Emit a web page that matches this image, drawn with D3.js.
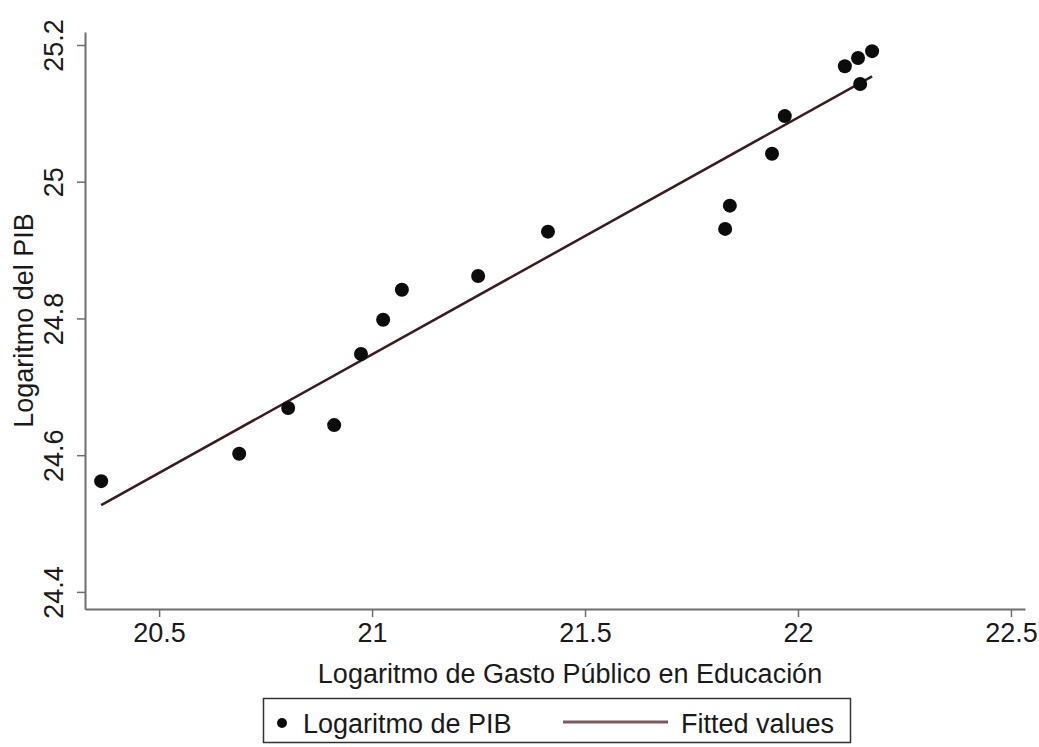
<!DOCTYPE html>
<html>
<head>
<meta charset="utf-8">
<script src="https://cdn.jsdelivr.net/npm/d3@7"></script>
<style>
  body { margin: 0; background: #fff; }
  svg { display: block; font-family: "Liberation Sans", Arial, sans-serif; }
</style>
</head>
<body>
<div id="viz"></div>
<script>
// data
const gastoEdu = [20.364, 20.688, 20.803, 20.911, 20.974, 21.026, 21.070, 21.249, 21.413,
                  21.829, 21.840, 21.939, 21.969, 22.110, 22.141, 22.146, 22.174];
const logPIB = [24.562, 24.602, 24.669, 24.644, 24.748, 24.798, 24.842, 24.862, 24.927,
                24.931, 24.965, 25.041, 25.096, 25.169, 25.181, 25.143, 25.191];
// fitted line end points
const fittedX = [20.364, 22.174];
const fittedY = [24.527, 25.154];

const xTicks = [20.5, 21, 21.5, 22, 22.5];
const yTicks = [24.4, 24.6, 24.8, 25, 25.2];

const width = 1039,
    height = 747;
const margin = { top: 32, right: 14, bottom: 138, left: 85 };

const svg = d3.select("#viz")
    .append("svg")
    .attr("width", width)
    .attr("height", height);

const x = d3.scaleLinear()
    .domain([20.326, 22.533])
    .range([margin.left, width - margin.right]);

const y = d3.scaleLinear()
    .domain([24.375, 25.219])
    .range([height - margin.bottom, margin.top]);

const fontSize = 27;
const axisColor = "#6e6e6e";
const lineColor = "#3a1c1f";

// x axis
const xAxis = svg.append("g")
    .attr("transform", `translate(0,${height - margin.bottom})`)
    .call(d3.axisBottom(x).tickValues(xTicks).tickSize(8).tickSizeOuter(0)
        .tickFormat(d => String(d)));
xAxis.select(".domain").attr("stroke", axisColor).attr("stroke-width", 2);
xAxis.selectAll(".tick line").attr("stroke", axisColor).attr("stroke-width", 1.5);
xAxis.selectAll(".tick text")
    .attr("y", 33)
    .attr("dy", 0)
    .style("font-size", fontSize + "px")
    .attr("fill", "#1a1a1a");

// y axis
const yAxis = svg.append("g")
    .attr("transform", `translate(${margin.left},0)`)
    .call(d3.axisLeft(y).tickValues(yTicks).tickSize(8).tickSizeOuter(0)
        .tickFormat(d => String(d)));
yAxis.select(".domain").attr("stroke", axisColor).attr("stroke-width", 2);
yAxis.selectAll(".tick line").attr("stroke", axisColor).attr("stroke-width", 1.5);
yAxis.selectAll(".tick text")
    .attr("x", 0)
    .attr("dy", 0)
    .attr("text-anchor", "middle")
    .attr("transform", "translate(-22,0) rotate(-90)")
    .style("font-size", fontSize + "px")
    .attr("fill", "#1a1a1a");

// axis titles
svg.append("text")
    .attr("x", 570)
    .attr("y", 683)
    .attr("text-anchor", "middle")
    .style("font-size", fontSize + "px")
    .attr("fill", "#1a1a1a")
    .text("Logaritmo de Gasto Público en Educación");

svg.append("text")
    .attr("transform", `translate(33,${(margin.top + height - margin.bottom) / 2}) rotate(-90)`)
    .attr("text-anchor", "middle")
    .style("font-size", fontSize + "px")
    .attr("fill", "#1a1a1a")
    .text("Logaritmo del PIB");

// fitted line
svg.append("line")
    .attr("x1", x(fittedX[0]))
    .attr("y1", y(fittedY[0]))
    .attr("x2", x(fittedX[1]))
    .attr("y2", y(fittedY[1]))
    .attr("stroke", lineColor)
    .attr("stroke-width", 2.5);

// points
svg.append("g")
    .selectAll("circle")
    .data(gastoEdu.map((d, i) => [d, logPIB[i]]))
    .enter()
    .append("circle")
        .attr("cx", d => x(d[0]))
        .attr("cy", d => y(d[1]))
        .attr("r", 7)
        .attr("fill", "#0c0c0c");

// legend
const legend = svg.append("g");
legend.append("rect")
    .attr("x", 263.5).attr("y", 698.5)
    .attr("width", 587).attr("height", 44)
    .attr("fill", "#fff")
    .attr("stroke", "#333")
    .attr("stroke-width", 1.5);
legend.append("circle").attr("cx", 282).attr("cy", 723).attr("r", 5).attr("fill", "#0c0c0c");
legend.append("text").attr("x", 303).attr("y", 733)
    .style("font-size", fontSize + "px").attr("fill", "#1a1a1a").text("Logaritmo de PIB");
legend.append("line").attr("x1", 563).attr("x2", 668).attr("y1", 722).attr("y2", 722)
    .attr("stroke", "#7a5a60").attr("stroke-width", 3);
legend.append("text").attr("x", 681).attr("y", 733)
    .style("font-size", fontSize + "px").attr("fill", "#1a1a1a").text("Fitted values");
</script>
</body>
</html>
